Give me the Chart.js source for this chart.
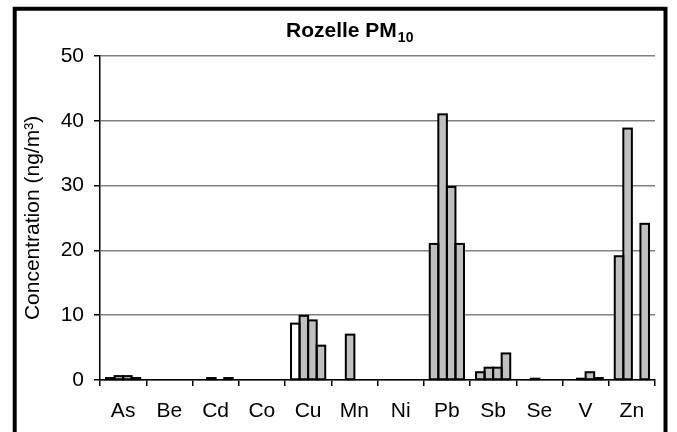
<!DOCTYPE html>
<html>
<head>
<meta charset="utf-8">
<script src="https://cdn.jsdelivr.net/npm/chart.js@4"></script>
<style>
  html, body { margin: 0; padding: 0; background: #fff; }
  #wrap { width: 677px; height: 432px; position: relative; }
</style>
</head>
<body>
<div id="wrap"><canvas id="myChart" width="677" height="432"></canvas></div>
<script>
const elements = ['As', 'Be', 'Cd', 'Co', 'Cu', 'Mn', 'Ni', 'Pb', 'Sb', 'Se', 'V', 'Zn'];
const series1 = [0.3, null, null, null, 8.7, null, null, 21.0, 1.2, null, null, 19.1];
const series2 = [0.6, null, 0.3, null, 9.9, 7.0, null, 41.0, 1.9, 0.2, 0.2, 38.8];
const series3 = [0.6, null, null, null, 9.2, null, null, 29.8, 1.9, null, 1.2, null];
const series4 = [0.3, null, 0.3, null, 5.3, null, null, 21.0, 4.1, null, 0.3, 24.1];
const yTicks = [0, 10, 20, 30, 40, 50];

const grey = '#c0c0c0';
const fontFam = '"Liberation Sans", Arial, sans-serif';
// only the first Cu bar is white in the original
const series1Colors = elements.map(e => e == 'Cu' ? '#ffffff' : grey);

function bars(label, data, color) {
  return {
    label: label,
    data: data,
    backgroundColor: color,
    borderWidth: 0,
    inflateAmount: 0,
    categoryPercentage: 0.74,
    barPercentage: 1.0
  };
}

// excel style outlines: stroke centred on the bar edges, so tiny bars show as black blocks
const outlines = {
  id: 'outlines',
  afterDatasetsDraw(chart) {
    const ctx = chart.ctx;
    ctx.save();
    ctx.strokeStyle = '#000';
    ctx.lineWidth = 2;
    chart.data.datasets.forEach((ds, i) => {
      chart.getDatasetMeta(i).data.forEach((bar, j) => {
        if (ds.data[j] == null) return;
        const p = bar.getProps(['x', 'y', 'base', 'width'], true);
        ctx.strokeRect(p.x - p.width / 2, p.y, p.width, p.base - p.y);
      });
    });
    ctx.restore();
  }
};

// outer frame + title with subscript
const frame = {
  id: 'frame',
  afterDraw(chart) {
    const ctx = chart.ctx;
    ctx.save();
    ctx.strokeStyle = '#000';
    ctx.lineWidth = 4;
    ctx.beginPath();
    ctx.moveTo(14.7, 440);
    ctx.lineTo(14.7, 8.8);
    ctx.lineTo(665.5, 8.8);
    ctx.lineTo(665.5, 440);
    ctx.stroke();

    ctx.fillStyle = '#000';
    ctx.textBaseline = 'alphabetic';
    ctx.textAlign = 'left';
    ctx.font = 'bold 21px ' + fontFam;
    const main = 'Rozelle PM';
    const w1 = ctx.measureText(main).width;
    const x0 = 286;
    ctx.fillText(main, x0, 36.5);
    ctx.font = 'bold 14px ' + fontFam;
    ctx.fillText('10', x0 + w1 + 1, 42);
    ctx.restore();
  }
};

const ctx = document.getElementById('myChart');

new Chart(ctx, {
  type: 'bar',
  data: {
    labels: elements,
    datasets: [
      bars('1', series1, series1Colors),
      bars('2', series2, grey),
      bars('3', series3, grey),
      bars('4', series4, grey)
    ]
  },
  options: {
    responsive: false,
    animation: false,
    layout: { padding: { left: 0, right: 22, top: 56, bottom: 0 } },
    plugins: {
      legend: { display: false },
      tooltip: { enabled: false }
    },
    scales: {
      x: {
        offset: true,
        grid: {
          offset: true,
          drawOnChartArea: true,
          color: c => c.index === elements.length ? '#808080' : 'rgba(0,0,0,0)',
          tickColor: '#000',
          tickLength: 6,
          lineWidth: 1.5
        },
        border: { color: '#000', width: 1.5 },
        ticks: {
          color: '#000',
          padding: 13,
          maxRotation: 0,
          font: { family: fontFam, size: 21 }
        },
        afterFit: s => { s.height = 52; }
      },
      y: {
        min: 0,
        max: 50,
        afterBuildTicks: s => { s.ticks = yTicks.map(v => ({ value: v })); },
        grid: {
          color: '#808080',
          lineWidth: 1.5,
          tickColor: '#000',
          tickLength: 6
        },
        border: { color: '#000', width: 1.5 },
        ticks: {
          color: '#000',
          padding: 10,
          font: { family: fontFam, size: 21 }
        },
        title: {
          display: true,
          text: 'Concentration (ng/m³)',
          color: '#000',
          padding: { top: 21 },
          font: { family: fontFam, size: 21 }
        },
        afterFit: s => { s.width = 100; }
      }
    }
  },
  plugins: [outlines, frame]
});
</script>
</body>
</html>
